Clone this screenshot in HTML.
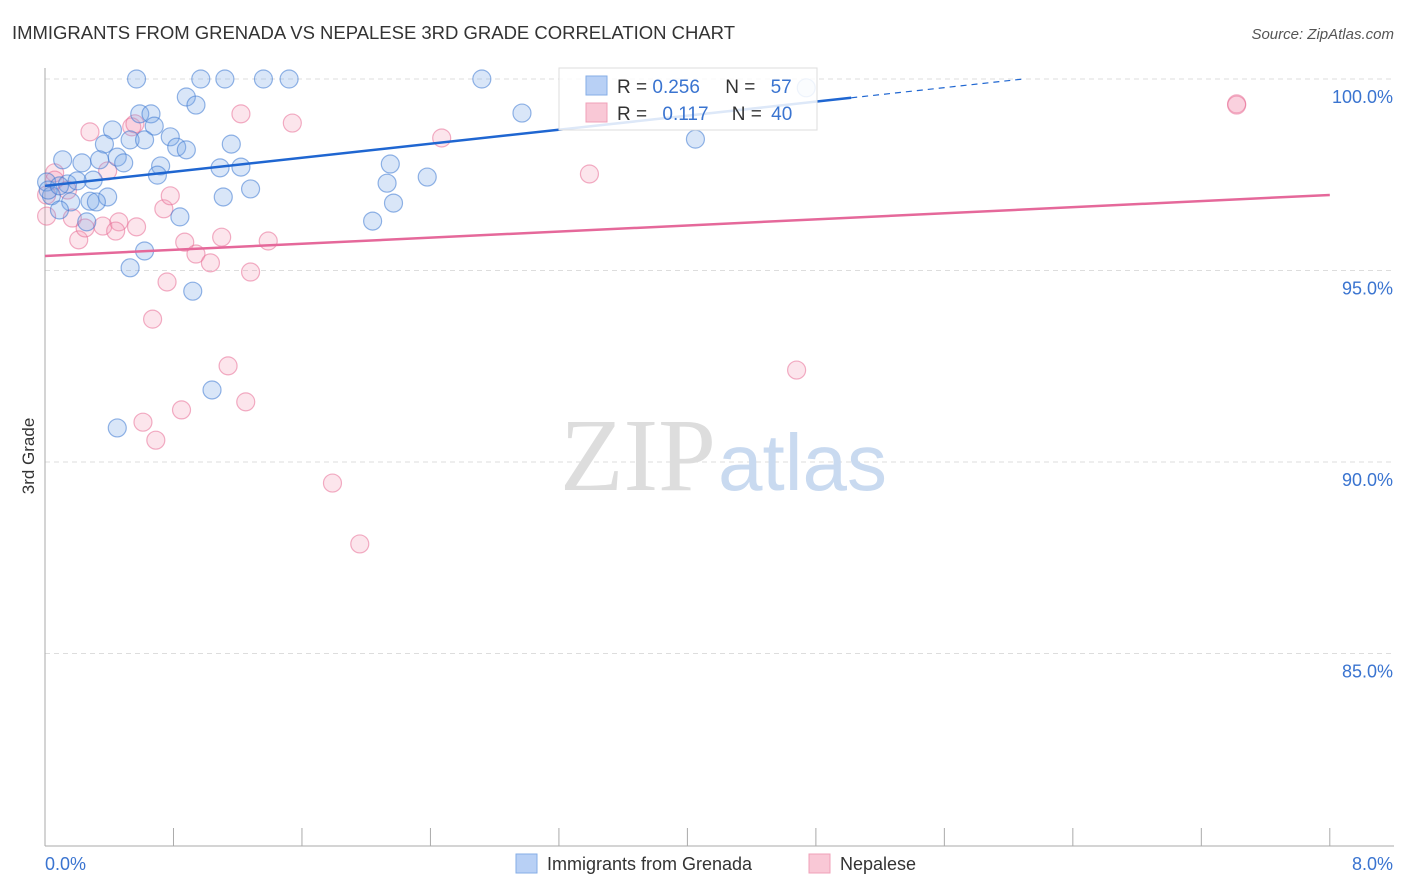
<!DOCTYPE html>
<html><head><meta charset="utf-8"><style>
body{margin:0;background:#fff;font-family:"Liberation Sans",sans-serif;}
svg{display:block}
</style></head><body>
<svg id="chart" width="1406" height="892">
<text x="12" y="39" font-size="18.5" fill="#333" textLength="723">IMMIGRANTS FROM GRENADA VS NEPALESE 3RD GRADE CORRELATION CHART</text>
<text x="1394" y="39" font-size="15" fill="#555" font-style="italic" text-anchor="end">Source: ZipAtlas.com</text>
<text x="34" y="456" font-size="17" fill="#333" transform="rotate(-90 34 456)" text-anchor="middle">3rd Grade</text>
<g id="grid"></g>
<text x="716" y="490" font-size="104" fill="#ddd" text-anchor="end" font-family="Liberation Serif,serif">ZIP</text>
<text x="718" y="490" font-size="80" fill="#c9daf0">atlas</text>
<g id="pts"></g>
<g id="lines"></g>
<g>
<rect x="559" y="68" width="258" height="62" fill="#fff" fill-opacity="0.85" stroke="#ddd"/>
<rect x="586" y="76" width="21" height="19" fill="#b8d0f5" stroke="#86aee6"/>
<rect x="586" y="103" width="21" height="19" fill="#f9c8d6" stroke="#f0a0b8"/>
<text x="617" y="93" font-size="19" fill="#333">R = <tspan fill="#3a74d0">0.256</tspan>  <tspan dx="20">N = </tspan><tspan fill="#3a74d0" dx="10">57</tspan></text>
<text x="617" y="120" font-size="19" fill="#333">R = <tspan fill="#3a74d0" dx="10">0.117</tspan>  <tspan dx="18">N = </tspan><tspan fill="#3a74d0" dx="4">40</tspan></text>
</g>
<g>
<rect x="516" y="854" width="21" height="19" fill="#b8d0f5" stroke="#86aee6"/>
<text x="547" y="870" font-size="18" fill="#333">Immigrants from Grenada</text>
<rect x="809" y="854" width="21" height="19" fill="#f9c8d6" stroke="#f0a0b8"/>
<text x="840" y="870" font-size="18" fill="#333">Nepalese</text>
</g>
</svg>
<script>
const yTicks=[100,95,90,85];
const yTickLabels=["100.0%","95.0%","90.0%","85.0%"];
const xTickLabels=["0.0%","8.0%"];
const blueX=[0.57,0.97,1.12,1.36,1.52,2.72,4.74,0.88,0.94,0.59,0.66,2.97,0.42,0.68,0.78,0.53,0.62,0.37,0.82,0.88,1.16,4.05,0.11,0.23,0.34,0.45,0.49,0.72,1.09,1.22,2.15,0.70,2.38,0.01,0.14,0.30,0.20,2.13,1.28,0.39,1.11,0.04,0.16,0.28,0.32,2.17,0.09,0.84,0.26,2.04,0.62,0.53,0.92,1.04,0.45,0.02,0.09];
const blueY=[100,100,100,100,100,100,99.77,99.53,99.32,99.09,99.09,99.11,98.67,98.77,98.49,98.41,98.41,98.30,98.22,98.15,98.30,98.43,97.89,97.81,97.89,97.96,97.81,97.73,97.68,97.70,97.78,97.49,97.44,97.31,97.26,97.36,97.34,97.28,97.13,96.92,96.92,96.95,96.79,96.81,96.79,96.76,96.58,96.40,96.27,96.29,95.51,95.07,94.46,91.88,90.89,97.10,97.21];
const pinkX=[7.42,7.42,1.22,1.54,2.47,0.28,0.54,0.56,3.39,0.06,0.39,0.14,0.01,0.01,0.17,0.21,0.25,0.36,0.46,0.44,0.57,0.74,0.78,0.87,1.10,1.39,0.94,1.03,1.28,0.76,0.67,1.14,4.68,1.25,0.85,0.61,0.69,1.79,1.96,0.06];
const pinkY=[99.35,99.32,99.09,98.85,98.46,98.62,98.75,98.83,97.52,97.55,97.60,97.10,96.97,96.42,96.37,95.80,96.11,96.16,96.27,96.03,96.14,96.61,96.95,95.74,95.87,95.77,95.43,95.20,94.96,94.70,93.73,92.51,92.40,91.57,91.36,91.04,90.57,89.45,87.86,97.36];
const blueTrend=[97.21,0.458];
const pinkTrend=[95.38,0.199];
const NS="http://www.w3.org/2000/svg";
const xs=v=>45+v*160.6, ys=v=>79+(100-v)*38.3;
function mk(t,a,p){const e=document.createElementNS(NS,t);for(const k in a)e.setAttribute(k,a[k]);p.appendChild(e);return e;}
const grid=document.getElementById('grid');
yTicks.forEach((t,i)=>{
 const l=mk('line',{x1:45,x2:1394,y1:ys(t),y2:ys(t),stroke:'#ddd','stroke-dasharray':'5,4'},grid);
 
 
 const tx=mk('text',{x:1393,y:ys(t)+24,'font-size':18,fill:'#3a74d0','text-anchor':'end'},grid);
 tx.textContent=yTickLabels[i];
 
 
});
const ax=mk('line',{x1:45,x2:45,y1:68,y2:846,stroke:'#aaa'},grid);


const bx=mk('line',{x1:45,x2:1394,y1:846,y2:846,stroke:'#aaa'},grid);


for(let i=0;i<=10;i++){const t=mk('line',{x1:xs(i*0.8),x2:xs(i*0.8),y1:828,y2:846,stroke:'#aaa'},grid);
 
 }
[[0,'start',45],[8,'end',1393]].forEach((d,i)=>{const t=mk('text',{x:d[2],y:870,'font-size':18,fill:'#3a74d0','text-anchor':d[1]},grid);t.textContent=xTickLabels[i];
 
 });
const pts=document.getElementById('pts');
pinkX.forEach((x,i)=>{const c=mk('circle',{cx:xs(x),cy:ys(pinkY[i]),r:9,fill:'rgba(244,150,180,0.25)',stroke:'rgba(232,110,150,0.55)','stroke-width':1.2},pts);
 
 });
blueX.forEach((x,i)=>{const c=mk('circle',{cx:xs(x),cy:ys(blueY[i]),r:9,fill:'rgba(120,165,230,0.28)',stroke:'rgba(60,120,210,0.55)','stroke-width':1.2},pts);
 
 });
const lines=document.getElementById('lines');
const bEnd=5.02, bDash=(100-blueTrend[0])/blueTrend[1];
const b1=mk('line',{x1:xs(0),y1:ys(blueTrend[0]),x2:xs(bEnd),y2:ys(blueTrend[0]+blueTrend[1]*bEnd),stroke:'#1f66d1','stroke-width':2.5},lines);


const b2=mk('line',{x1:xs(bEnd),y1:ys(blueTrend[0]+blueTrend[1]*bEnd),x2:xs(bDash),y2:ys(100),stroke:'#1f66d1','stroke-width':1.2,'stroke-dasharray':'6,5'},lines);


const p1=mk('line',{x1:xs(0),y1:ys(pinkTrend[0]),x2:xs(8),y2:ys(pinkTrend[0]+pinkTrend[1]*8),stroke:'#e5689a','stroke-width':2.5},lines);


</script>
</body></html>
